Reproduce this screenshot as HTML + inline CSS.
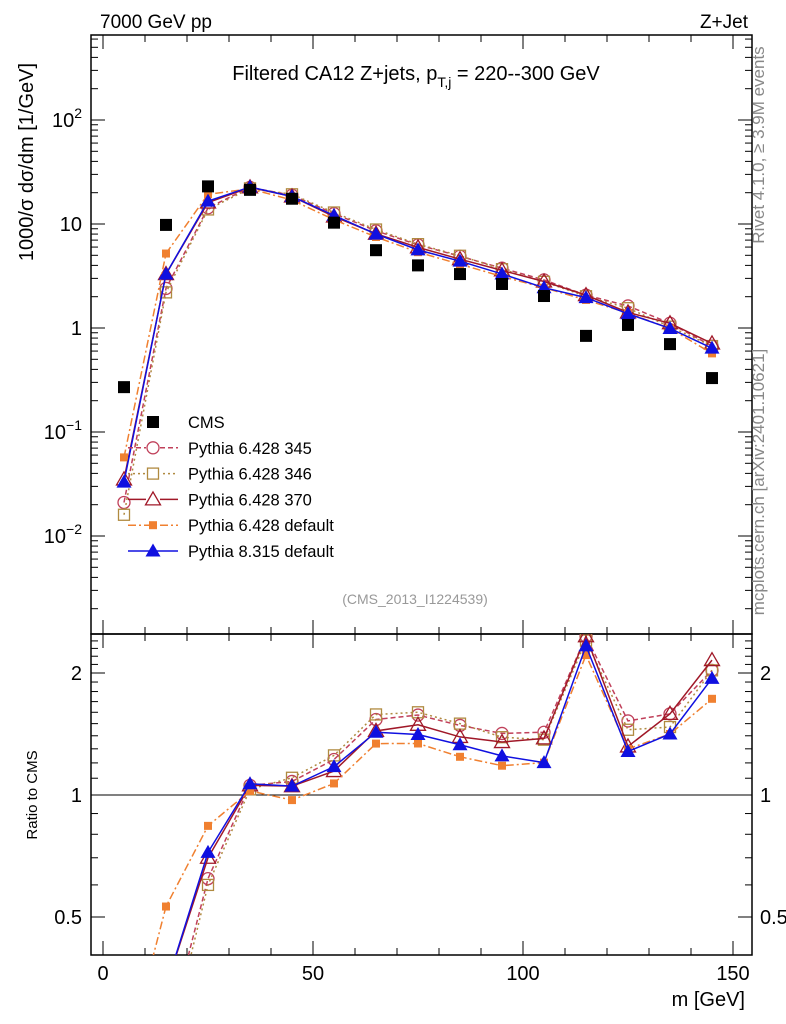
<!DOCTYPE html>
<html><head><meta charset="utf-8"><style>
html,body{margin:0;padding:0;background:#fff;overflow:hidden;width:786px;height:1024px;}
svg{display:block;font-family:"Liberation Sans",sans-serif;}
</style></head><body>
<svg id="c" width="786" height="1024" viewBox="0 0 786 1024" xmlns="http://www.w3.org/2000/svg">
<defs>
<clipPath id="cm"><rect x="91" y="35" width="661" height="599"/></clipPath>
<clipPath id="cr"><rect x="91" y="634" width="661" height="321"/></clipPath>
</defs>
<rect x="91" y="35" width="661" height="599" fill="none" stroke="#000" stroke-width="1.5"/>
<rect x="91" y="634" width="661" height="321" fill="none" stroke="#000" stroke-width="1.5"/>
<text x="100" y="28" font-size="19">7000 GeV pp</text>
<text x="748" y="28" font-size="19" text-anchor="end">Z+Jet</text>
<text x="416" y="80" font-size="20" text-anchor="middle">Filtered CA12 Z+jets, p<tspan font-size="14" dy="7">T,j</tspan><tspan dy="-7"> = 220--300 GeV</tspan></text>
<text transform="translate(764,145) rotate(-90)" font-size="17" fill="#888" text-anchor="middle">Rivet 4.1.0, ≥ 3.9M events</text>
<text transform="translate(764,482) rotate(-90)" font-size="17" fill="#888" text-anchor="middle">mcplots.cern.ch [arXiv:2401.10621]</text>
<text transform="translate(33,162) rotate(-90)" font-size="20" text-anchor="middle">1000/σ  dσ/dm [1/GeV]</text>
<text transform="translate(37,795) rotate(-90)" font-size="15" text-anchor="middle">Ratio to CMS</text>
<text x="745" y="1006" font-size="20" text-anchor="end">m [GeV]</text>
<text x="415" y="604" font-size="14" fill="#999" text-anchor="middle">(CMS_2013_I1224539)</text>
<g id="ax"></g><g id="pl"></g><g id="lg"></g>
</svg>
<script>
const masses=[5,15,25,35,45,55,65,75,85,95,105,115,125,135,145];
const cms=[0.27,9.8,23,21.3,17.5,10.3,5.6,4.0,3.3,2.65,2.03,0.84,1.07,0.70,0.33];
const p345=[0.021,2.4,14.3,22.5,18.9,12.6,8.6,6.3,4.9,3.76,2.9,2.07,1.63,1.11,0.67];
const p346=[0.016,2.2,13.8,22.0,19.3,12.9,8.85,6.4,4.95,3.68,2.78,2.02,1.55,1.03,0.67];
const p370=[0.035,3.3,16.1,22.5,18.4,11.8,8.06,5.96,4.59,3.58,2.8,2.07,1.41,1.11,0.71];
const p6def=[0.057,5.2,19.3,21.8,17.0,11.0,7.5,5.36,4.1,3.13,2.44,1.86,1.39,0.99,0.57];
const p8def=[0.033,3.3,16.6,22.7,18.4,12.1,8.0,5.64,4.39,3.31,2.44,1.96,1.37,0.99,0.64];
const xTicks=[0,50,100,150];
const yTicks=[2,1,0,-1,-2];
const rTicks=[0.5,1,2];

const NS="http://www.w3.org/2000/svg";
const X=v=>103+v*4.2;
const Y=v=>328-104*Math.log10(v);
const R=v=>795-122*Math.log2(v);
function mk(p,t,a){const e=document.createElementNS(NS,t);for(const k in a)e.setAttribute(k,a[k]);p.appendChild(e);return e;}
const ax=document.getElementById('ax'),pl=document.getElementById('pl'),lg=document.getElementById('lg');
for(let v=0;v<=150;v+=10){const maj=v%50===0,L=maj?14:7;
 for(const [t,b] of [[35,634],[634,955]]){
  let e=mk(ax,'line',{x1:X(v),x2:X(v),y1:b,y2:b-L,stroke:'#000'});
  
  e=mk(ax,'line',{x1:X(v),x2:X(v),y1:t,y2:t+L,stroke:'#000'});
  }}
xTicks.forEach(v=>{const t=mk(ax,'text',{x:X(v),y:980,'font-size':20,'text-anchor':'middle'});t.textContent=v;
 });
for(let d=-3;d<=2;d++)for(let m=1;m<10;m++){const v=m*Math.pow(10,d),y=Y(v);if(y<35||y>634)continue;const L=m===1?14:7;
 let e=mk(ax,'line',{x1:91,x2:91+L,y1:y,y2:y,stroke:'#000'});
 e=mk(ax,'line',{x1:752,x2:752-L,y1:y,y2:y,stroke:'#000'});}
yTicks.forEach(d=>{const y=Y(Math.pow(10,d));const t=mk(ax,'text',{x:82,y:y+7,'font-size':20,'text-anchor':'end'});
 if(d===0)t.textContent='1';else if(d===1)t.textContent='10';else{t.textContent='10';const s=mk(t,'tspan',{dy:-9,'font-size':14});s.textContent=String(d).replace('-','−');}
 });
for(let v=0.4;v<=2.5;v+=0.1){const y=R(v);if(y<634||y>955)continue;const maj=[0.5,1,2].some(q=>Math.abs(q-v)<1e-6),L=maj?14:7;
 let e=mk(ax,'line',{x1:91,x2:91+L,y1:y,y2:y,stroke:'#000'});
 e=mk(ax,'line',{x1:752,x2:752-L,y1:y,y2:y,stroke:'#000'});}
rTicks.forEach(v=>{for(const [x,a] of [[82,'end'],[760,'start']]){const t=mk(ax,'text',{x:x,y:R(v)+7,'font-size':20,'text-anchor':a});t.textContent=v;
 }});
let one=mk(ax,'line',{x1:91,x2:752,y1:R(1),y2:R(1),stroke:'#000'});


function marker(g,type,x,y,col){let e;
 if(type==='fsq')e=mk(g,'rect',{x:x-6,y:y-6,width:12,height:12,fill:col});
 else if(type==='ssq')e=mk(g,'rect',{x:x-4,y:y-4,width:8,height:8,fill:col});
 else if(type==='osq')e=mk(g,'rect',{x:x-5.5,y:y-5.5,width:11,height:11,fill:'none',stroke:col,'stroke-width':1.3});
 else if(type==='oci')e=mk(g,'circle',{cx:x,cy:y,r:6,fill:'none',stroke:col,'stroke-width':1.3});
 else if(type==='otr')e=mk(g,'path',{d:`M${x},${y-7.5}L${x+7.5},${y+5.5}L${x-7.5},${y+5.5}Z`,fill:'none',stroke:col,'stroke-width':1.3});
 else e=mk(g,'path',{d:`M${x},${y-7.5}L${x+7.5},${y+5.5}L${x-7.5},${y+5.5}Z`,fill:col});
 }
const series=[
 {n:'Pythia 6.428 345',d:p345,c:'#c0405a',m:'oci',da:'5,3',id:'p345'},
 {n:'Pythia 6.428 346',d:p346,c:'#b08a40',m:'osq',da:'2,3',id:'p346'},
 {n:'Pythia 6.428 370',d:p370,c:'#a01828',m:'otr',da:'',id:'p370'},
 {n:'Pythia 6.428 default',d:p6def,c:'#f08030',m:'ssq',da:'8,3,2,3',id:'p6-default'},
 {n:'Pythia 8.315 default',d:p8def,c:'#1010e0',m:'ftr',da:'',id:'p8-default'}];
series.forEach(s=>{
 const g=mk(pl,'g',{'clip-path':'url(#cm)'});
 const p=mk(g,'polyline',{points:masses.map((m,i)=>X(m)+','+Y(s.d[i])).join(' '),fill:'none',stroke:s.c,'stroke-width':1.5,'stroke-dasharray':s.da});
 
 masses.forEach((m,i)=>marker(g,s.m,X(m),Y(s.d[i]),s.c));
 const gr=mk(pl,'g',{'clip-path':'url(#cr)'});
 const pr=mk(gr,'polyline',{points:masses.map((m,i)=>X(m)+','+R(s.d[i]/cms[i])).join(' '),fill:'none',stroke:s.c,'stroke-width':1.5,'stroke-dasharray':s.da});
 
 masses.forEach((m,i)=>marker(gr,s.m,X(m),R(s.d[i]/cms[i]),s.c));
});
const gc=mk(pl,'g',{'clip-path':'url(#cm)'});
masses.forEach((m,i)=>marker(gc,'fsq',X(m),Y(cms[i]),'#000'));
const items=[{n:'CMS',c:'#000',m:'fsq',da:null}].concat(series);
items.forEach((s,i)=>{const y=422+i*25.8;
 const g=mk(lg,'g',{});
 if(s.da!==null){const l=mk(g,'line',{x1:128,x2:178,y1:y,y2:y,stroke:s.c,'stroke-width':1.5,'stroke-dasharray':s.da});
  }
 if(s.da!==null&&s.m!=='ssq'&&s.m!=='ftr'){const b=mk(g,'rect',{x:146,y:y-7,width:14,height:13,fill:'#fff'});}
 marker(g,s.m,153,y,s.c);
 const t=mk(g,'text',{x:188,y:y+6,'font-size':16.5});t.textContent=s.n;
 });
</script>
</body></html>
